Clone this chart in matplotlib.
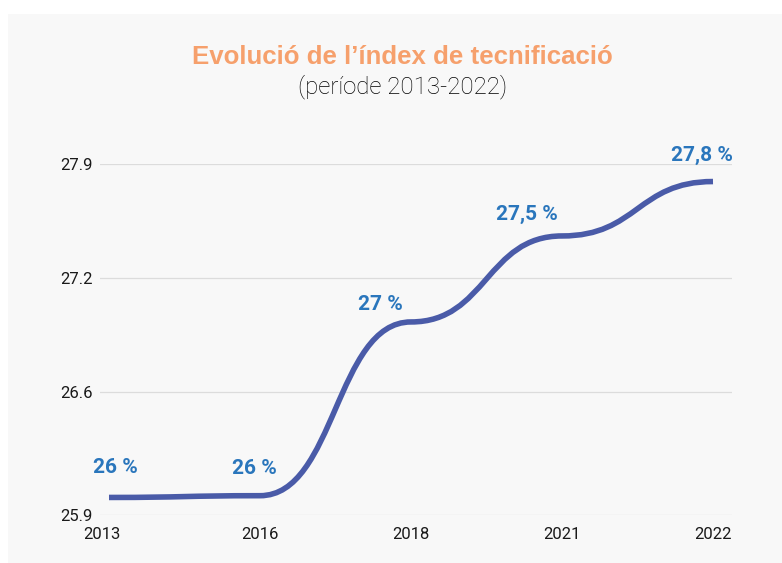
import matplotlib
matplotlib.use("Agg")
import matplotlib.pyplot as plt
from matplotlib.path import Path
from matplotlib.patches import PathPatch, Rectangle
import matplotlib.transforms as mtransforms

# data
years = ["2013", "2016", "2018", "2021", "2022"]
values = [26.0, 26.01, 27.0, 27.49, 27.80]
value_labels = ["26 %", "26 %", "27 %", "27,5 %", "27,8 %"]
ytick_values = [25.9, 26.6, 27.25, 27.9]
ytick_labels = ["25.9", "26.6", "27.2", "27.9"]

# label offsets in pixels (x, y) from the point
label_offsets = [(6, 24), (-6, 22), (-31, 12), (-35, 16), (-11, 21)]

line_color = "#4a5ba8"
label_color = "#2a76bc"
title_color = "#f6a06c"

fig = plt.figure(figsize=(7.82, 5.63), dpi=100)
fig.patch.set_facecolor("white")
fig.patches.append(Rectangle((8 / 782, 0), 1, 1 - 14 / 563, transform=fig.transFigure,
                             facecolor="#f8f8f8", edgecolor="none", zorder=-10))

ax = fig.add_axes([100 / 782, 48 / 563, 632 / 782, 351 / 563])
ax.set_facecolor("none")

xs = list(range(len(years)))

# smooth line, horizontal tangents at every point
verts = [(xs[0], values[0])]
codes = [Path.MOVETO]
for i in range(len(xs) - 1):
    xm = (xs[i] + xs[i + 1]) / 2
    verts += [(xm, values[i]), (xm, values[i + 1]), (xs[i + 1], values[i + 1])]
    codes += [Path.CURVE4] * 3
ax.add_patch(PathPatch(Path(verts, codes), facecolor="none", edgecolor=line_color,
                       lw=4, capstyle="butt", joinstyle="round", zorder=3))

for x, v, lab, off in zip(xs, values, value_labels, label_offsets):
    ax.annotate(lab, (x, v), xytext=off, textcoords="offset pixels",
                ha="center", va="baseline", fontsize=15, fontweight="bold",
                family="Roboto", color=label_color, annotation_clip=False)

ax.set_xlim(-9 / 151, 4 + 19 / 151)
ax.set_ylim(25.9, 27.9)
ax.set_xticks(xs)
ax.set_xticklabels(years)
ax.set_yticks(ytick_values)
ax.set_yticklabels(ytick_labels)

ax.tick_params(axis="both", length=0)
ax.tick_params(axis="y", pad=5)
ax.tick_params(axis="x", pad=8.5)
for s in ax.spines.values():
    s.set_visible(False)
ax.yaxis.grid(True, color="#dcdcdc", lw=0.9)
ax.set_axisbelow(True)

for lab in ax.get_xticklabels() + ax.get_yticklabels():
    lab.set_family("Roboto")
    lab.set_fontsize(12)
    lab.set_color("#1a1a1a")
# first year label sits a bit left of its point
first = ax.xaxis.get_major_ticks()[0].label1
first.set_transform(first.get_transform() +
                    mtransforms.ScaledTranslation(-7 / 100, 0, fig.dpi_scale_trans))

fig.text(402 / 782, 1 - 64.5 / 563, "Evolució de l’índex de tecnificació", ha="center",
         va="baseline", fontsize=18.6, fontweight="bold", family="Liberation Sans",
         color=title_color)
fig.text(403 / 782, 1 - 93 / 563, "(període 2013-2022)", ha="center", va="baseline",
         fontsize=17.3, fontweight="light", family="Roboto", color="#000000")

fig.savefig("out.png", dpi=100, facecolor=fig.get_facecolor())
